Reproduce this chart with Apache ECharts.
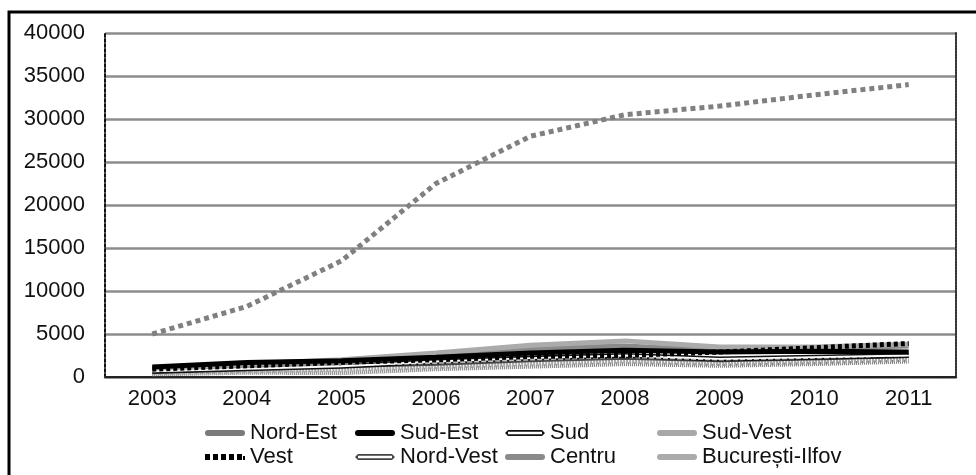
<!DOCTYPE html>
<html>
<head>
<meta charset="utf-8">
<script src="https://cdn.jsdelivr.net/npm/echarts@6/dist/echarts.min.js"></script>
<style>
  html, body { margin: 0; padding: 0; background: #fff; }
  #chart { width: 976px; height: 475px; }
</style>
</head>
<body>
<div id="chart"></div>
<script>
// Years on the category axis
const years = ['2003', '2004', '2005', '2006', '2007', '2008', '2009', '2010', '2011'];

// Regional series
const nordEst   = [300, 500, 450, 900, 1200, 1500, 1300, 1500, 1800];
const sudEst    = [1150, 1700, 1900, 2300, 2800, 3100, 2900, 3000, 2900];
const sud       = [650, 950, 1250, 1800, 2200, 2500, 2100, 2300, 2500];
const sudVest   = [450, 650, 850, 1150, 1500, 1800, 1500, 1700, 2000];
const vest      = [900, 1300, 1700, 2000, 2400, 2500, 2900, 3400, 3900];
const nordVest  = [750, 1050, 1350, 1600, 2000, 2300, 2000, 2200, 2500];
const centru    = [850, 1250, 1650, 2600, 3300, 3600, 3100, 3300, 3600];
const bucIlfov  = [1000, 1500, 2000, 2800, 3700, 4200, 3500, 3500, 3800];

// Upper dotted series
const upperSeries = [5000, 8200, 13500, 22500, 28000, 30500, 31500, 32800, 34000];

// Value axis ticks
const yTicks = [0, 5000, 10000, 15000, 20000, 25000, 30000, 35000, 40000];

const font = 'Liberation Sans, Arial, sans-serif';
const chart = echarts.init(document.getElementById('chart'), null, { renderer: 'canvas' });

function line(name, data, style, z) {
  return {
    name: name, type: 'line', data: data, symbol: 'none', smooth: false,
    xAxisIndex: 0, yAxisIndex: 0, z: z || 2,
    lineStyle: style, itemStyle: { color: style.color },
    emphasis: { disabled: true }
  };
}

// Legend glyphs (40 x 6 boxes)
const solidIcon  = 'path://M3,0H37A3,3 0 0 1 37,6H3A3,3 0 0 1 3,0Z';
const doubleIcon = 'path://M3,0H37V1.8H3Z M3,4.2H37V6H3Z M0,3L3,0V6Z M40,3L37,0V6Z';
const dotIcon    = 'path://M0,0H5V6H0Z M8,0H13V6H8Z M16,0H21V6H16Z M24,0H29V6H24Z M32,0H37V6H32Z M38,2H40V6H38Z';

const legendText = { fontFamily: font, fontSize: 22, color: '#111' };
function legendCol(left, names, icons) {
  return {
    orient: 'vertical', left: left, top: 422, padding: 0, itemGap: 2, height: 60,
    itemWidth: 40, itemHeight: 6, textStyle: legendText,
    data: names.map((n, i) => ({ name: n, icon: icons[i] })),
    selectedMode: false
  };
}

chart.setOption({
  animation: false,
  backgroundColor: '#fff',
  graphic: [{
    type: 'rect', shape: { x: 9, y: 12, width: 1000, height: 500 },
    style: { fill: 'none', stroke: '#000', lineWidth: 3 }, z: 100
  }],
  grid: { left: 105, right: 20, top: 33, bottom: 98, containLabel: false },
  legend: [
    legendCol(205, ['Nord-Est', 'Vest'], [solidIcon, dotIcon]),
    legendCol(355, ['Sud-Est', 'Nord-Vest'], [solidIcon, doubleIcon]),
    legendCol(505, ['Sud', 'Centru'], [doubleIcon, solidIcon]),
    legendCol(657, ['Sud-Vest', 'București-Ilfov'], [solidIcon, solidIcon])
  ],
  xAxis: [{
    type: 'category', data: years, boundaryGap: true,
    axisLine: { lineStyle: { color: '#8c8c8c', width: 2.5 } },
    axisTick: { show: false },
    axisLabel: { fontFamily: font, fontSize: 22, color: '#111', margin: 11 }
  }, {
    type: 'category', data: years, position: 'top', boundaryGap: true,
    axisLine: { lineStyle: { color: '#222', width: 2, type: [2, 1] } },
    axisTick: { show: false }, axisLabel: { show: false }, splitLine: { show: false }
  }],
  yAxis: [{
    type: 'value', min: yTicks[0], max: yTicks[yTicks.length - 1], interval: 5000,
    axisLine: { show: true, lineStyle: { color: '#111', width: 2, type: [3, 2] } },
    axisTick: { show: false },
    axisLabel: { fontFamily: font, fontSize: 22, color: '#111', margin: 20, formatter: v => String(v) },
    splitLine: { lineStyle: { color: '#8c8c8c', width: 2.5 } }
  }, {
    type: 'value', min: yTicks[0], max: yTicks[yTicks.length - 1], interval: 5000, position: 'right',
    axisLine: { show: true, lineStyle: { color: '#333', width: 2, type: [2, 1] } },
    axisTick: { show: false }, axisLabel: { show: false }, splitLine: { show: false }
  }],
  series: [
    line('Nord-Est', nordEst, { color: '#7a7a7a', width: 4, type: [1, 1] }),
    line('Sud-Vest', sudVest, { color: '#a8a8a8', width: 4, type: [2, 1] }),
    line('Nord-Vest', nordVest, { color: '#444', width: 5 }),
    line('', nordVest, { color: '#bbb', width: 1.5, type: [5, 2] }, 3),
    line('Sud', sud, { color: '#111', width: 5 }),
    line('', sud, { color: '#fff', width: 1.8 }, 3),
    line('Centru', centru, { color: '#8a8a8a', width: 5 }),
    line('București-Ilfov', bucIlfov, { color: '#ababab', width: 5 }),
    line('Sud-Est', sudEst, { color: '#000', width: 5 }, 4),
    line('Vest', vest, { color: '#000', width: 5, type: [4, 3] }, 4),
    line('Total', upperSeries, { color: '#808080', width: 5, type: [5, 4] }, 4)
  ]
});
</script>
</body>
</html>
